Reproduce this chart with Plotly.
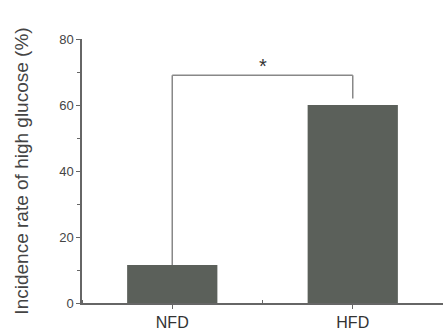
import plotly.graph_objects as go

categories = ["NFD", "HFD"]
values = [11.5, 60]
bracket_y = 69
star_label = "*"
y_ticks = [0, 20, 40, 60, 80]

x_pos = list(range(len(categories)))
bar_color = "#5b605a"
axis_color = "#666666"

fig = go.Figure()
fig.add_trace(go.Bar(x=x_pos, y=values, width=0.5, marker=dict(color=bar_color, line=dict(width=0)),
                     hoverinfo="skip"))

# significance bracket
fig.add_shape(type="line", x0=x_pos[0], x1=x_pos[0], y0=values[0], y1=bracket_y,
              line=dict(color="#888888", width=1.5))
fig.add_shape(type="line", x0=x_pos[1], x1=x_pos[1], y0=values[1] + 2, y1=bracket_y,
              line=dict(color="#888888", width=1.5))
fig.add_shape(type="line", x0=x_pos[0], x1=x_pos[1], y0=bracket_y, y1=bracket_y,
              line=dict(color="#888888", width=1.5))
fig.add_annotation(x=(x_pos[0] + x_pos[1]) / 2, y=bracket_y - 1, text=star_label, showarrow=False,
                   yanchor="bottom", font=dict(size=20, color="#333333", family="Arial"))

fig.update_layout(
    width=443, height=334,
    margin=dict(l=82, r=0, t=39, b=31),
    plot_bgcolor="white", paper_bgcolor="white",
    showlegend=False,
    font=dict(family="Liberation Sans, Arial", color="#333333"),
    xaxis=dict(range=[-0.5, 1.5], tickvals=x_pos, ticktext=categories, showline=True,
               linecolor=axis_color, linewidth=1.5, ticks="outside", ticklen=4, tickcolor=axis_color,
               tickfont=dict(size=16, color="#333333"), showgrid=False, zeroline=False,
               minor=dict(tick0=0.5, dtick=1, ticks="inside", ticklen=3, tickcolor=axis_color)),
    yaxis=dict(range=[0, 80], tickvals=y_ticks, showline=True, linecolor=axis_color, linewidth=1.5,
               ticks="outside", ticklen=4, tickcolor=axis_color, showgrid=False, zeroline=False,
               tickfont=dict(size=13, color="#444444"),
               minor=dict(tick0=10, dtick=20, ticks="outside", ticklen=3, tickcolor=axis_color),
               title=dict(text="Incidence rate of high glucose (%)", font=dict(size=19, color="#444444"),
                          standoff=26)),
)

fig.write_html("out.html", config={"displayModeBar": False},
               post_script="document.body.style.margin='0';document.body.style.overflow='hidden';")
